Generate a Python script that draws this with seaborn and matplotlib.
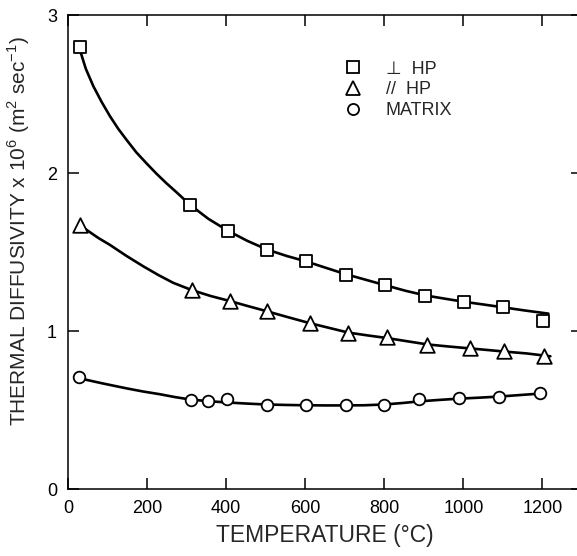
import matplotlib
matplotlib.use("Agg")
import matplotlib.pyplot as plt
import seaborn as sns
import pandas as pd
from matplotlib.lines import Line2D

# ---- measured points ----
temp_perp = [30, 308, 404, 504, 603, 702, 802, 904, 1001, 1100, 1201]
diff_perp = [2.80, 1.80, 1.63, 1.515, 1.44, 1.355, 1.29, 1.223, 1.185, 1.153, 1.065]

temp_par = [31, 314, 409, 503, 611, 709, 808, 909, 1016, 1103, 1203]
diff_par = [1.67, 1.26, 1.19, 1.125, 1.05, 0.99, 0.96, 0.913, 0.892, 0.871, 0.844]

temp_mat = [28, 310, 355, 403, 504, 603, 703, 800, 888, 989, 1090, 1195]
diff_mat = [0.707, 0.564, 0.555, 0.572, 0.534, 0.534, 0.532, 0.534, 0.568, 0.577, 0.58, 0.606]

# ---- fitted curves ----
curve_perp_t = [30, 45, 64, 85, 106, 127, 148, 173, 199, 224, 249, 278, 308, 355, 404, 454, 504,
                553, 603, 652, 702, 752, 802, 853, 904, 952, 1001, 1050, 1100, 1155, 1215]
curve_perp_d = [2.78, 2.66, 2.55, 2.45, 2.36, 2.28, 2.21, 2.13, 2.06, 1.995, 1.935, 1.87, 1.80,
                1.71, 1.635, 1.57, 1.515, 1.475, 1.44, 1.40, 1.36, 1.325, 1.29, 1.255, 1.225,
                1.205, 1.185, 1.168, 1.15, 1.13, 1.11]

curve_par_t = [30, 47, 76, 106, 148, 190, 228, 266, 312, 360, 409, 456, 503, 557, 611, 660, 709,
               758, 808, 858, 909, 962, 1016, 1060, 1103, 1160, 1220]
curve_par_d = [1.67, 1.64, 1.59, 1.545, 1.475, 1.41, 1.355, 1.305, 1.26, 1.222, 1.19, 1.157,
               1.125, 1.087, 1.05, 1.02, 0.99, 0.972, 0.955, 0.935, 0.915, 0.902, 0.89, 0.88,
               0.87, 0.858, 0.84]

curve_mat_t = [30, 90, 148, 190, 232, 270, 310, 355, 400, 450, 500, 550, 600, 650, 700, 750,
               800, 845, 890, 940, 990, 1040, 1090, 1145, 1200]
curve_mat_d = [0.70, 0.667, 0.637, 0.617, 0.60, 0.582, 0.566, 0.556, 0.548, 0.541, 0.535,
               0.532, 0.53, 0.529, 0.529, 0.53, 0.535, 0.544, 0.555, 0.564, 0.572, 0.578,
               0.585, 0.595, 0.605]

labels = ["\u22a5  HP", "//  HP", "MATRIX"]
markers = ["s", "^", "o"]
xticks = [0, 200, 400, 600, 800, 1000, 1200]
yticks = [0, 1, 2, 3]

sns.set_style("ticks")
plt.rcParams["font.family"] = ["Liberation Sans", "DejaVu Sans"]
plt.rcParams["mathtext.fontset"] = "custom"
plt.rcParams["mathtext.rm"] = "Liberation Sans"

fig = plt.figure(figsize=(5.77, 5.56), dpi=100)
ax = fig.add_axes([68 / 577, 67 / 556, (582 - 68) / 577, (489 - 15) / 556])

curves = [(curve_perp_t, curve_perp_d), (curve_par_t, curve_par_d), (curve_mat_t, curve_mat_d)]
for ct, cd in curves:
    sns.lineplot(x=ct, y=cd, ax=ax, color="black", lw=1.9, sort=False,
                 estimator=None, legend=False, zorder=2)

points = [(temp_perp, diff_perp), (temp_par, diff_par), (temp_mat, diff_mat)]
sizes = [75, 110, 70]
for (t, d), m, lab, s in zip(points, markers, labels, sizes):
    sns.scatterplot(x=t, y=d, ax=ax, marker=m, s=s, facecolor="white",
                    edgecolor="black", linewidth=1.3, zorder=3, legend=False)

ax.set_xlim(0, 1300)
ax.set_ylim(0, 3)
ax.set_xticks(xticks)
ax.set_xticklabels([str(v) for v in xticks])
ax.set_yticks(yticks)
ax.set_yticklabels([str(v) for v in yticks])
ax.tick_params(direction="in", length=8, width=1.1, top=True, right=True,
               labelsize=13, pad=8, colors="black")
for sp in ax.spines.values():
    sp.set_visible(True)
    sp.set_linewidth(1.1)
    sp.set_color("black")

ax.set_xlabel("TEMPERATURE (\u00b0C)", fontsize=16.5, labelpad=5)
ax.set_ylabel(r"THERMAL DIFFUSIVITY x 10$^{6}$ (m$^{2}$ sec$^{-1}$)", fontsize=15)
ax.yaxis.set_label_coords(-0.07, 0.545)

handles = [Line2D([], [], ls="none", marker=m, ms=ms, mfc="white", mec="black", mew=1.3)
           for m, ms in zip(markers, [8.5, 10.5, 8])]
ax.legend(handles, labels, loc="upper left", bbox_to_anchor=(0.495, 0.93), frameon=False,
          fontsize=13, handletextpad=0.8, labelspacing=0.2, borderpad=0.2)

fig.savefig("out.png", dpi=100)
